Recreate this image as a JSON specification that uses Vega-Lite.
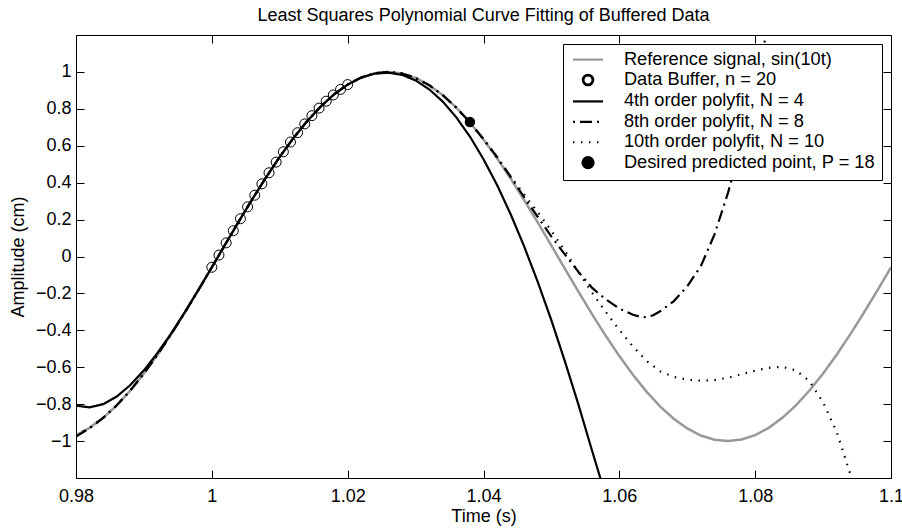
{
  "$schema": "https://vega.github.io/schema/vega-lite/v6.json",
  "width": 815,
  "height": 443,
  "autosize": {"type": "none"},
  "padding": {"left": 76, "top": 35, "right": 11, "bottom": 53},
  "background": "white",
  "title": {"text": "Least Squares Polynomial Curve Fitting of Buffered Data", "font": "Liberation Sans", "fontSize": 18, "fontWeight": "normal", "color": "black", "anchor": "middle", "baseline": "alphabetic", "frame": "group", "offset": 13.5, "dy": 18},
  "config": {
    "view": {"stroke": null},
    "axis": {"grid": false, "domainColor": "black", "domainWidth": 1, "tickColor": "black", "tickWidth": 1, "tickSize": -8, "labelFont": "Liberation Sans", "labelFontSize": 18, "labelColor": "black", "labelFlush": false, "labelOverlap": false, "titleFont": "Liberation Sans", "titleFontSize": 18, "titleFontWeight": "normal", "titleColor": "black"}
  },
  "datasets": {
    "ref": [
      {"t":0.98,"y":-0.9675},{"t":0.982,"y":-0.9282},{"t":0.984,"y":-0.8742},{"t":0.986,"y":-0.8064},{"t":0.988,"y":-0.726},{"t":0.99,"y":-0.6341},{"t":0.992,"y":-0.5321},{"t":0.994,"y":-0.4218},{"t":0.996,"y":-0.3048},{"t":0.998,"y":-0.1831},
      {"t":1.0,"y":-0.0584},{"t":1.002,"y":0.0671},{"t":1.004,"y":0.1917},{"t":1.006,"y":0.3131},{"t":1.008,"y":0.4297},{"t":1.01,"y":0.5395},{"t":1.012,"y":0.6407},{"t":1.014,"y":0.732},{"t":1.016,"y":0.8116},{"t":1.018,"y":0.8785},
      {"t":1.02,"y":0.9314},{"t":1.022,"y":0.9697},{"t":1.024,"y":0.9927},{"t":1.026,"y":1.0},{"t":1.028,"y":0.9916},{"t":1.03,"y":0.9675},{"t":1.032,"y":0.9282},{"t":1.034,"y":0.8742},{"t":1.036,"y":0.8064},{"t":1.038,"y":0.726},
      {"t":1.04,"y":0.6341},{"t":1.042,"y":0.5321},{"t":1.044,"y":0.4218},{"t":1.046,"y":0.3048},{"t":1.048,"y":0.1831},{"t":1.05,"y":0.0584},{"t":1.052,"y":-0.0671},{"t":1.054,"y":-0.1917},{"t":1.056,"y":-0.3131},{"t":1.058,"y":-0.4297},
      {"t":1.06,"y":-0.5395},{"t":1.062,"y":-0.6407},{"t":1.064,"y":-0.732},{"t":1.066,"y":-0.8116},{"t":1.068,"y":-0.8785},{"t":1.07,"y":-0.9314},{"t":1.072,"y":-0.9697},{"t":1.074,"y":-0.9927},{"t":1.076,"y":-1.0},{"t":1.078,"y":-0.9916},
      {"t":1.08,"y":-0.9675},{"t":1.082,"y":-0.9282},{"t":1.084,"y":-0.8742},{"t":1.086,"y":-0.8064},{"t":1.088,"y":-0.726},{"t":1.09,"y":-0.6341},{"t":1.092,"y":-0.5321},{"t":1.094,"y":-0.4218},{"t":1.096,"y":-0.3048},{"t":1.098,"y":-0.1831},
      {"t":1.1,"y":-0.0584}
    ],
    "buf": [
      {"t":1.0,"y":-0.0584},{"t":1.00105,"y":0.0077},{"t":1.00211,"y":0.0738},{"t":1.00316,"y":0.1395},{"t":1.00421,"y":0.2047},{"t":1.00526,"y":0.2689},{"t":1.00632,"y":0.332},{"t":1.00737,"y":0.3937},{"t":1.00842,"y":0.4536},{"t":1.00947,"y":0.5115},
      {"t":1.01053,"y":0.5671},{"t":1.01158,"y":0.6202},{"t":1.01263,"y":0.6708},{"t":1.01368,"y":0.7184},{"t":1.01474,"y":0.7629},{"t":1.01579,"y":0.8039},{"t":1.01684,"y":0.8415},{"t":1.01789,"y":0.8753},{"t":1.01895,"y":0.9053},{"t":1.02,"y":0.9314}
    ],
    "p4": [
      {"t":0.98,"y":-0.8075},{"t":0.982,"y":-0.8173},{"t":0.984,"y":-0.7997},{"t":0.986,"y":-0.7583},{"t":0.988,"y":-0.6963},{"t":0.99,"y":-0.6168},{"t":0.992,"y":-0.5228},{"t":0.994,"y":-0.4173},{"t":0.996,"y":-0.303},{"t":0.998,"y":-0.1825},
      {"t":1.0,"y":-0.0584},{"t":1.002,"y":0.0671},{"t":1.004,"y":0.1916},{"t":1.006,"y":0.3132},{"t":1.008,"y":0.4297},{"t":1.01,"y":0.5395},{"t":1.012,"y":0.6408},{"t":1.014,"y":0.7319},{"t":1.016,"y":0.8116},{"t":1.018,"y":0.8784},
      {"t":1.02,"y":0.9313},{"t":1.022,"y":0.9691},{"t":1.024,"y":0.9911},{"t":1.026,"y":0.9962},{"t":1.028,"y":0.9841},{"t":1.03,"y":0.9541},{"t":1.032,"y":0.9058},{"t":1.034,"y":0.839},{"t":1.036,"y":0.7537},{"t":1.038,"y":0.6498},
      {"t":1.04,"y":0.5273},{"t":1.042,"y":0.3868},{"t":1.044,"y":0.2286},{"t":1.046,"y":0.0531},{"t":1.048,"y":-0.1389},{"t":1.05,"y":-0.3466},{"t":1.052,"y":-0.5691},{"t":1.054,"y":-0.8052},{"t":1.056,"y":-1.0539},{"t":1.0572,"y":-1.2}
    ],
    "p8": [
      {"t":0.98,"y":-0.975},{"t":0.982,"y":-0.93},{"t":0.984,"y":-0.8745},{"t":0.986,"y":-0.8064},{"t":0.988,"y":-0.726},{"t":0.99,"y":-0.6341},{"t":0.992,"y":-0.5321},{"t":0.994,"y":-0.4218},{"t":0.996,"y":-0.3048},{"t":0.998,"y":-0.1831},
      {"t":1.0,"y":-0.0584},{"t":1.002,"y":0.0671},{"t":1.004,"y":0.1917},{"t":1.006,"y":0.3131},{"t":1.008,"y":0.4297},{"t":1.01,"y":0.5395},{"t":1.012,"y":0.6407},{"t":1.014,"y":0.732},{"t":1.016,"y":0.8116},{"t":1.018,"y":0.8785},
      {"t":1.02,"y":0.9314},{"t":1.022,"y":0.9697},{"t":1.024,"y":0.9927},{"t":1.026,"y":1.0},{"t":1.028,"y":0.9916},{"t":1.03,"y":0.9675},{"t":1.032,"y":0.9282},{"t":1.034,"y":0.8742},{"t":1.036,"y":0.8064},{"t":1.038,"y":0.727},
      {"t":1.04,"y":0.636},{"t":1.042,"y":0.54},{"t":1.044,"y":0.432},{"t":1.046,"y":0.32},{"t":1.048,"y":0.214},{"t":1.05,"y":0.108},{"t":1.052,"y":0.01},{"t":1.054,"y":-0.084},{"t":1.056,"y":-0.17},{"t":1.058,"y":-0.232},
      {"t":1.06,"y":-0.282},{"t":1.062,"y":-0.316},{"t":1.063,"y":-0.326},{"t":1.064,"y":-0.329},{"t":1.065,"y":-0.318},{"t":1.066,"y":-0.297},{"t":1.068,"y":-0.243},{"t":1.07,"y":-0.162},{"t":1.072,"y":-0.052},{"t":1.074,"y":0.118},
      {"t":1.076,"y":0.345},{"t":1.078,"y":0.615},{"t":1.08,"y":0.925},{"t":1.0816,"y":1.2}
    ],
    "p10": [
      {"t":0.98,"y":-0.9675},{"t":0.982,"y":-0.9282},{"t":0.984,"y":-0.8742},{"t":0.986,"y":-0.8064},{"t":0.988,"y":-0.726},{"t":0.99,"y":-0.6341},{"t":0.992,"y":-0.5321},{"t":0.994,"y":-0.4218},{"t":0.996,"y":-0.3048},{"t":0.998,"y":-0.1831},
      {"t":1.0,"y":-0.0584},{"t":1.002,"y":0.0671},{"t":1.004,"y":0.1917},{"t":1.006,"y":0.3131},{"t":1.008,"y":0.4297},{"t":1.01,"y":0.5395},{"t":1.012,"y":0.6407},{"t":1.014,"y":0.732},{"t":1.016,"y":0.8116},{"t":1.018,"y":0.8785},
      {"t":1.02,"y":0.9314},{"t":1.022,"y":0.9697},{"t":1.024,"y":0.9927},{"t":1.026,"y":1.0},{"t":1.028,"y":0.9916},{"t":1.03,"y":0.9675},{"t":1.032,"y":0.9282},{"t":1.034,"y":0.8742},{"t":1.036,"y":0.8064},{"t":1.038,"y":0.726},
      {"t":1.04,"y":0.6345},{"t":1.042,"y":0.534},{"t":1.044,"y":0.434},{"t":1.046,"y":0.335},{"t":1.048,"y":0.24},{"t":1.05,"y":0.138},{"t":1.052,"y":0.03},{"t":1.054,"y":-0.085},{"t":1.056,"y":-0.196},{"t":1.058,"y":-0.3},
      {"t":1.06,"y":-0.398},{"t":1.062,"y":-0.487},{"t":1.064,"y":-0.565},{"t":1.066,"y":-0.622},{"t":1.068,"y":-0.652},{"t":1.07,"y":-0.667},{"t":1.072,"y":-0.673},{"t":1.074,"y":-0.67},{"t":1.076,"y":-0.657},{"t":1.078,"y":-0.638},
      {"t":1.08,"y":-0.618},{"t":1.082,"y":-0.603},{"t":1.084,"y":-0.598},{"t":1.086,"y":-0.617},{"t":1.088,"y":-0.675},{"t":1.09,"y":-0.79},{"t":1.092,"y":-0.95},{"t":1.0942,"y":-1.2}
    ],
    "pred": [{"t":1.038,"y":0.729}]
  },
  "encoding": {
    "x": {"field": "t", "type": "quantitative", "scale": {"domain": [0.98, 1.1], "nice": false, "zero": false}},
    "y": {"field": "y", "type": "quantitative", "scale": {"domain": [-1.2, 1.2], "nice": false, "zero": false}}
  },
  "layer": [
    {
      "data": {"name": "ref"},
      "mark": {"type": "line", "clip": true, "strokeWidth": 2.5},
      "encoding": {
        "x": {"field": "t", "type": "quantitative", "axis": {"orient": "bottom", "values": [0.98, 1, 1.02, 1.04, 1.06, 1.08, 1.1], "format": "~g", "title": "Time (s)", "labelPadding": 17, "titlePadding": 2}},
        "y": {"field": "y", "type": "quantitative", "axis": {"orient": "left", "values": [-1, -0.8, -0.6, -0.4, -0.2, 0, 0.2, 0.4, 0.6, 0.8, 1], "format": "~g", "title": "Amplitude (cm)", "labelPadding": 13, "titlePadding": 8}},
        "color": {
          "datum": "Reference signal, sin(10t)",
          "scale": {"domain": ["Reference signal, sin(10t)", "Data Buffer, n = 20", "4th order polyfit, N = 4", "8th order polyfit, N = 8", "10th order polyfit, N = 10", "Desired predicted point, P = 18"], "range": ["#999999", "black", "black", "black", "black", "black"]},
          "legend": {
            "title": null, "orient": "top-right", "offset": 9, "padding": 6.5, "rowPadding": 1.4,
            "fillColor": "white", "strokeColor": "black",
            "labelFont": "Liberation Sans", "labelFontSize": 18.25, "labelColor": "black", "labelLimit": 400,
            "symbolSize": 225, "symbolStrokeWidth": 2.2, "symbolOffset": 9.4, "labelOffset": 26.75,
            "encode": {"symbols": {"update": {
              "shape": {"signal": "datum.value === 'Data Buffer, n = 20' ? 'M0.6933,0A0.6933,0.6933,0,1,1,-0.6933,0A0.6933,0.6933,0,1,1,0.6933,0ZM0.62,0A0.62,0.62,0,1,0,-0.62,0A0.62,0.62,0,1,0,0.62,0Z' : datum.value === 'Desired predicted point, P = 18' ? 'M0.7333,0A0.7333,0.7333,0,1,1,-0.7333,0A0.7333,0.7333,0,1,1,0.7333,0Z' : 'M-2,0L2,0'"},
              "fill": {"signal": "datum.value === 'Data Buffer, n = 20' || datum.value === 'Desired predicted point, P = 18' ? 'black' : 'transparent'"},
              "stroke": {"signal": "datum.value === 'Reference signal, sin(10t)' ? '#999999' : (datum.value === 'Data Buffer, n = 20' || datum.value === 'Desired predicted point, P = 18') ? 'transparent' : 'black'"},
              "strokeDash": {"signal": "datum.value === '8th order polyfit, N = 8' ? [12, 5, 2, 5] : datum.value === '10th order polyfit, N = 10' ? [1.5, 6.5] : null"},
              "strokeDashOffset": {"signal": "datum.value === '8th order polyfit, N = 8' ? 17 : 0"},
              "opacity": {"value": 1}
            }}}
          }
        }
      }
    },
    {
      "data": {"name": "buf"},
      "mark": {"type": "point", "filled": false, "size": 100, "strokeWidth": 1, "opacity": 1},
      "encoding": {
        "x": {"field": "t", "type": "quantitative", "axis": null},
        "y": {"field": "y", "type": "quantitative", "axis": null},
        "color": {"datum": "Data Buffer, n = 20", "legend": null}
      }
    },
    {
      "data": {"name": "p4"},
      "mark": {"type": "line", "clip": true, "strokeWidth": 2.2},
      "encoding": {
        "x": {"field": "t", "type": "quantitative", "axis": null},
        "y": {"field": "y", "type": "quantitative", "axis": null},
        "color": {"datum": "4th order polyfit, N = 4", "legend": null}
      }
    },
    {
      "data": {"name": "p8"},
      "mark": {"type": "line", "clip": true, "strokeWidth": 2.2, "strokeDash": [12, 5, 2, 5]},
      "encoding": {
        "x": {"field": "t", "type": "quantitative", "axis": null},
        "y": {"field": "y", "type": "quantitative", "axis": null},
        "color": {"datum": "8th order polyfit, N = 8", "legend": null}
      }
    },
    {
      "data": {"name": "p10"},
      "mark": {"type": "line", "clip": true, "strokeWidth": 2.2, "strokeDash": [1.5, 6.5]},
      "encoding": {
        "x": {"field": "t", "type": "quantitative", "axis": null},
        "y": {"field": "y", "type": "quantitative", "axis": null},
        "color": {"datum": "10th order polyfit, N = 10", "legend": null}
      }
    },
    {
      "data": {"name": "pred"},
      "mark": {"type": "point", "filled": true, "size": 110, "opacity": 1},
      "encoding": {
        "x": {"field": "t", "type": "quantitative", "axis": {"orient": "top", "values": [0.98, 1, 1.02, 1.04, 1.06, 1.08, 1.1], "labels": false, "title": null, "minExtent": 0, "maxExtent": 0}},
        "y": {"field": "y", "type": "quantitative", "axis": {"orient": "right", "values": [-1, -0.8, -0.6, -0.4, -0.2, 0, 0.2, 0.4, 0.6, 0.8, 1], "labels": false, "title": null, "minExtent": 0, "maxExtent": 0}},
        "color": {"datum": "Desired predicted point, P = 18", "legend": null}
      }
    }
  ],
  "resolve": {"axis": {"x": "independent", "y": "independent"}}
}
